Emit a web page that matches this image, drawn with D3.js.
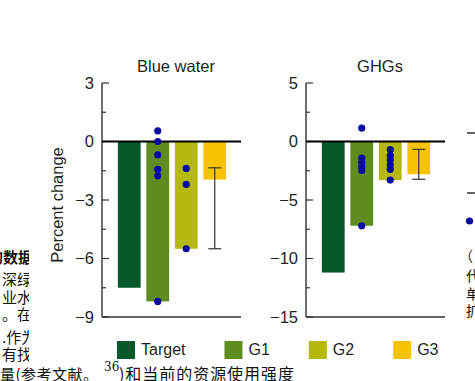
<!DOCTYPE html>
<html><head><meta charset="utf-8">
<script src="https://cdn.jsdelivr.net/npm/d3@7"></script>
<style>body{margin:0;background:#fff}svg{display:block}</style>
</head><body><svg id="c" width="475" height="381"></svg>
<script>
// ---- data ----
const groups = ["Target", "G1", "G2", "G3"];
const groupColors = ["#07582b", "#5e8c1f", "#b4b90b", "#f8c300"];
const panelTitles = ["Blue water", "GHGs"];
const blueWaterBars = [-7.5, -8.2, -5.5, -1.95];
const ghgBars = [-11.2, -7.2, -3.3, -2.8];
const blueWaterG1Points = [0.55, 0, -0.68, -1.43, -1.76, -8.2];
const blueWaterG2Points = [-1.38, -2.2, -5.5];
const ghgG1Points = [1.15, -1.42, -1.8, -2.15, -2.48, -7.2];
const ghgG2Points = [-0.7, -1.2, -1.58, -2.0, -2.38, -3.3];
const blueWaterG3Range = [-1.35, -5.5];
const ghgG3Range = [-0.67, -3.23];
const blueWaterTicks = [3, 0, -3, -6, -9];
const ghgTicks = [5, 0, -5, -10, -15];
const yAxisLabel = "Percent change";
// surrounding page text fragments
const leftColumnText = ["的数据", "深绿色", "业水资", "。在此", ".作为", "有找到"];
const rightColumnText = ["（", "代", "单", "扩"];
const bottomLineA = "量(参考文献。";
const bottomLineSup = "36";
const bottomLineB = ")和当前的资源使用强度";

const svg = d3.select("#c");
const FONT = "'Liberation Sans', Arial, Helvetica, sans-serif";
const CJK = "'Noto Sans CJK SC', sans-serif";
const TXT = "#231f20";

// ---- page text behind the figure ----
svg.append("rect").attr("width", 475).attr("height", 381).attr("fill", "#fff");
const defs = svg.append("defs");
defs.append("clipPath").attr("id", "clipL").append("rect").attr("x", 0).attr("y", 0).attr("width", 29).attr("height", 366);
defs.append("clipPath").attr("id", "clipR").append("rect").attr("x", 465).attr("y", 0).attr("width", 10).attr("height", 366);
const leftBaselines = [263, 285, 303, 320, 343, 360];
const gl = svg.append("g").attr("clip-path", "url(#clipL)");
leftColumnText.forEach((t, i) => {
  gl.append("text").attr("x", i === 0 ? -12 : 2).attr("y", leftBaselines[i])
    .attr("font-family", CJK).attr("font-size", 15)
    .attr("font-weight", i === 0 ? 700 : 400).attr("fill", "#111").text(t);
});
const rightBaselines = [261, 281, 299, 316];
const gr = svg.append("g").attr("clip-path", "url(#clipR)");
rightColumnText.forEach((t, i) => {
  gr.append("text").attr("x", i === 0 ? 459 : 466).attr("y", rightBaselines[i])
    .attr("font-family", CJK).attr("font-size", 14).attr("fill", "#111").text(t);
});
svg.append("text").attr("x", 0).attr("y", 380).attr("font-family", CJK).attr("font-size", 15)
  .attr("fill", "#111").attr("textLength", 98).text(bottomLineA);
svg.append("text").attr("x", 104).attr("y", 371).attr("font-family", "'DejaVu Serif', serif").attr("font-size", 12)
  .attr("fill", "#111").text(bottomLineSup);
svg.append("text").attr("x", 119).attr("y", 380).attr("font-family", CJK).attr("font-size", 16)
  .attr("fill", "#111").attr("textLength", 175).text(bottomLineB);

// ---- panels ----
const yTop = 83, yBottom = 317;
const panelLefts = [102, 306];
const panelData = [
  { title: panelTitles[0], ticks: blueWaterTicks, bars: blueWaterBars, g1: blueWaterG1Points, g2: blueWaterG2Points, g3: blueWaterG3Range },
  { title: panelTitles[1], ticks: ghgTicks, bars: ghgBars, g1: ghgG1Points, g2: ghgG2Points, g3: ghgG3Range }
];

panelData.forEach((p, pi) => {
  const left = panelLefts[pi];
  const g = svg.append("g");
  const y = d3.scaleLinear().domain([d3.max(p.ticks), d3.min(p.ticks)]).range([yTop, yBottom]);
  const x = d3.scaleBand().domain(groups).range([left + 13, left + 127]).paddingInner(0.2).paddingOuter(0.1);
  const right = left + 139;

  // bars
  g.selectAll("rect.bar").data(p.bars).join("rect").attr("class", "bar")
    .attr("x", (d, i) => x(groups[i])).attr("width", x.bandwidth())
    .attr("y", d => y(Math.max(0, d))).attr("height", d => Math.abs(y(d) - y(0)))
    .attr("fill", (d, i) => groupColors[i]);

  // error bar on G3
  const cx3 = x("G3") + x.bandwidth() / 2;
  g.append("line").attr("x1", cx3).attr("x2", cx3).attr("y1", y(p.g3[0])).attr("y2", y(p.g3[1]))
    .attr("stroke", "#333").attr("stroke-width", 1.2);
  p.g3.forEach(v => g.append("line").attr("x1", cx3 - 6.5).attr("x2", cx3 + 6.5).attr("y1", y(v)).attr("y2", y(v))
    .attr("stroke", "#333").attr("stroke-width", 1.2));

  // axis
  g.append("line").attr("x1", left).attr("x2", left).attr("y1", y.range()[0]).attr("y2", y.range()[1])
    .attr("stroke", "#333").attr("stroke-width", 1.4);
  g.append("line").attr("x1", left).attr("x2", right).attr("y1", y.range()[1]).attr("y2", y.range()[1])
    .attr("stroke", "#333").attr("stroke-width", 1.4);
  g.selectAll("line.maj").data(p.ticks).join("line").attr("class", "maj")
    .attr("x1", left).attr("x2", left + 7).attr("y1", d => y(d)).attr("y2", d => y(d))
    .attr("stroke", "#333").attr("stroke-width", 1.2);
  const minor = d3.pairs(p.ticks).map(([a, b]) => (a + b) / 2);
  g.selectAll("line.min").data(minor).join("line").attr("class", "min")
    .attr("x1", left).attr("x2", left + 4).attr("y1", d => y(d)).attr("y2", d => y(d))
    .attr("stroke", "#333").attr("stroke-width", 1.2);
  g.selectAll("text.tl").data(p.ticks).join("text").attr("class", "tl")
    .attr("x", left - 8).attr("y", d => y(d)).attr("dy", "0.36em").attr("text-anchor", "end")
    .attr("font-family", FONT).attr("font-size", 16.5).attr("fill", TXT)
    .text(d => d < 0 ? "\u2212" + Math.abs(d) : String(d));

  // zero line
  g.append("line").attr("x1", left).attr("x2", right).attr("y1", y(0)).attr("y2", y(0))
    .attr("stroke", "#000").attr("stroke-width", 2.2);

  // points
  const pts = [].concat(p.g1.map(v => ["G1", v]), p.g2.map(v => ["G2", v]));
  g.selectAll("circle").data(pts).join("circle")
    .attr("cx", d => x(d[0]) + x.bandwidth() / 2).attr("cy", d => y(d[1])).attr("r", 3.6)
    .attr("fill", "#0a0aa0");

  // title
  g.append("text").attr("x", left + 74).attr("y", 72).attr("text-anchor", "middle")
    .attr("font-family", FONT).attr("font-size", 16.5).attr("fill", TXT).text(p.title);
});

// y axis label
svg.append("text").attr("transform", "translate(63,205) rotate(-90)").attr("text-anchor", "middle")
  .attr("font-family", FONT).attr("font-size", 16.5).attr("fill", TXT).text(yAxisLabel);

// right-edge fragments of a neighbouring panel
svg.append("g").attr("clip-path", "url(#clipR)").selectAll("line").data([133, 193]).join("line")
  .attr("x1", 467).attr("x2", 476).attr("y1", d => d).attr("y2", d => d).attr("stroke", "#333").attr("stroke-width", 1.5);
svg.append("circle").attr("cx", 469.5).attr("cy", 221).attr("r", 3.6).attr("fill", "#0a0aa0");

// legend
const leg = svg.append("g");
let lx = 117;
groups.forEach((name, i) => {
  leg.append("rect").attr("x", lx).attr("y", 341).attr("width", 18).attr("height", 18).attr("fill", groupColors[i]);
  const t = leg.append("text").attr("x", lx + 24).attr("y", 355).attr("font-family", FONT).attr("font-size", 16)
    .attr("fill", TXT).text(name);
  lx = lx + 24 + t.node().getComputedTextLength() + 39;
});
</script></body></html>
